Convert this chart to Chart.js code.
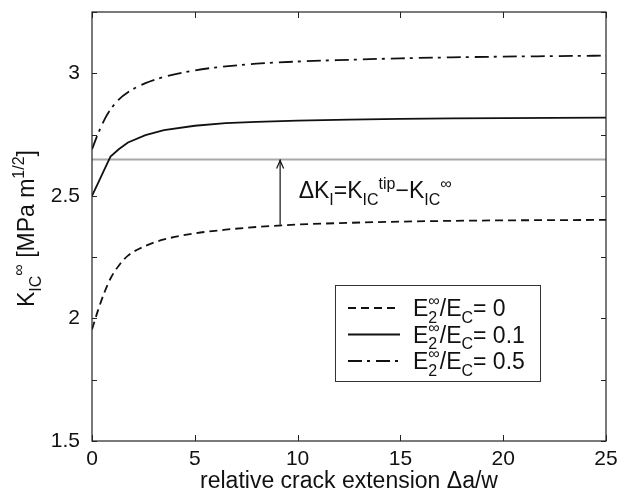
<!DOCTYPE html>
<html>
<head>
<meta charset="utf-8">
<script src="https://cdn.jsdelivr.net/npm/chart.js@4.4.1/dist/chart.umd.min.js"></script>
<style>
  html, body { margin: 0; padding: 0; background: #fff; }
  canvas { display: block; }
</style>
</head>
<body>
<canvas id="chart" width="619" height="493"></canvas>
<script>
// values
const X_VALUES = [0, 0.3, 0.6, 0.9, 1.3, 1.75, 2.6, 3.5, 5, 6.5, 8, 10, 12.5, 15, 17.5, 20, 22.5, 25];
const K_E0 = [1.955, 2.035, 2.105, 2.163, 2.215, 2.256, 2.296, 2.322, 2.347, 2.362, 2.373, 2.383, 2.39, 2.395, 2.398, 2.4, 2.401, 2.402];
const K_E01 = [2.5, 2.553, 2.607, 2.66, 2.69, 2.718, 2.748, 2.768, 2.786, 2.797, 2.802, 2.807, 2.811, 2.814, 2.816, 2.817, 2.818, 2.819];
const K_E05 = [2.69, 2.755, 2.81, 2.852, 2.893, 2.923, 2.96, 2.985, 3.012, 3.028, 3.039, 3.048, 3.055, 3.061, 3.065, 3.068, 3.07, 3.072];
const LEGEND_VALUES = ["0", "0.1", "0.5"];
const K_TIP = 2.648;
const ARROW_X = 9.15;
const ARROW_FROM = 2.382;
const X_TICKS = [0, 5, 10, 15, 20, 25];
const Y_MIN = 1.5, Y_MAX = 3.25, Y_STEP = 0.25;

const FONT = '"Liberation Sans", Arial, Helvetica, sans-serif';
const INK = "#111";

const pts = (ys) => ys.map((y, i) => ({ x: X_VALUES[i], y }));

// draw text made of plain / sub / sup pieces, returns width
function rich(ctx, parts, x, y, size, draw = true) {
  const small = Math.round(size * 0.68);
  let cx = x;
  for (const p of parts) {
    if (typeof p === "string") {
      ctx.font = `${size}px ${FONT}`;
      if (draw) ctx.fillText(p, cx, y);
      cx += ctx.measureText(p).width;
      continue;
    }
    ctx.font = `${small}px ${FONT}`;
    let w = 0;
    if (p.sub) {
      if (draw) ctx.fillText(p.sub, cx, y + size * 0.3);
      w = Math.max(w, ctx.measureText(p.sub).width);
    }
    if (p.sup) {
      if (draw) ctx.fillText(p.sup, cx, y - size * 0.42);
      w = Math.max(w, ctx.measureText(p.sup).width);
    }
    cx += w;
  }
  return cx - x;
}

const decor = {
  id: "decor",
  afterDatasetsDraw(chart) {
    const { ctx, chartArea: a, scales: { x, y } } = chart;
    ctx.save();
    ctx.strokeStyle = "#222";
    ctx.lineWidth = 1.2;
    ctx.strokeRect(a.left, a.top, a.right - a.left, a.bottom - a.top);

    // inner ticks on all four sides
    ctx.lineWidth = 1;
    ctx.beginPath();
    for (const v of X_TICKS) {
      const px = Math.round(x.getPixelForValue(v)) + 0.5;
      ctx.moveTo(px, a.bottom); ctx.lineTo(px, a.bottom - 6);
      ctx.moveTo(px, a.top); ctx.lineTo(px, a.top + 6);
    }
    for (let v = Y_MIN; v <= Y_MAX + 1e-9; v += Y_STEP) {
      const py = Math.round(y.getPixelForValue(v)) + 0.5;
      ctx.moveTo(a.left, py); ctx.lineTo(a.left + 5, py);
      ctx.moveTo(a.right, py); ctx.lineTo(a.right - 5, py);
    }
    ctx.stroke();

    // arrow head
    const ax = x.getPixelForValue(ARROW_X);
    const ay = y.getPixelForValue(K_TIP);
    ctx.strokeStyle = INK;
    ctx.lineWidth = 1.2;
    ctx.beginPath();
    ctx.moveTo(ax - 3.5, ay + 9); ctx.lineTo(ax, ay + 1); ctx.lineTo(ax + 3.5, ay + 9);
    ctx.stroke();

    // delta K label
    ctx.fillStyle = INK;
    ctx.textBaseline = "alphabetic";
    ctx.textAlign = "left";
    rich(ctx, ["\u0394K", { sub: "I" }, "=K", { sub: "IC" }, { sup: "tip" }, "\u2212K", { sub: "IC" }, { sup: "\u221e" }],
      x.getPixelForValue(10.05), y.getPixelForValue(2.49), 23);

    // legend
    const lx = 335, ly = 285, lw = 205, lh = 96;
    ctx.strokeStyle = "#333";
    ctx.lineWidth = 1;
    ctx.strokeRect(lx + 0.5, ly + 0.5, lw, lh);
    chart.data.datasets.slice(0, 3).forEach((ds, i) => {
      const ry = ly + 23 + i * 26.5;
      ctx.strokeStyle = INK;
      ctx.lineWidth = ds.borderWidth;
      ctx.setLineDash(ds.borderDash || []);
      ctx.beginPath();
      ctx.moveTo(348, ry); ctx.lineTo(400, ry);
      ctx.stroke();
      ctx.setLineDash([]);
      rich(ctx, ["E", { sub: "2", sup: "\u221e" }, "/E", { sub: "C" }, "= " + LEGEND_VALUES[i]], 413, ry + 8, 23);
    });
    ctx.restore();
  },
  afterDraw(chart) {
    const { ctx, chartArea: a } = chart;
    ctx.save();
    ctx.fillStyle = INK;
    ctx.textBaseline = "alphabetic";
    // x title
    ctx.font = `23px ${FONT}`;
    ctx.textAlign = "center";
    ctx.fillText("relative crack extension \u0394a/w", (a.left + a.right) / 2, 488);
    // y title, rotated
    ctx.textAlign = "left";
    const yParts = ["K", { sub: "IC" }, { sup: "\u221e" }, " [MPa m", { sup: "1/2" }, "]"];
    const w = rich(ctx, yParts, 0, 0, 23, false);
    ctx.translate(34, (a.top + a.bottom) / 2 + 2);
    ctx.rotate(-Math.PI / 2);
    rich(ctx, yParts, -w / 2, 0, 23);
    ctx.restore();
  },
};

const line = (label, data, dash, extra = {}) => ({
  label, data, borderColor: INK, borderWidth: 1.8, borderDash: dash,
  pointRadius: 0, fill: false, ...extra,
});

new Chart(document.getElementById("chart").getContext("2d"), {
  type: "line",
  data: {
    datasets: [
      line("E0", pts(K_E0), [8, 5], { cubicInterpolationMode: "monotone" }),
      line("E0.1", pts(K_E01), []),
      line("E0.5", pts(K_E05), [14, 5, 3, 6], { cubicInterpolationMode: "monotone" }),
      { label: "tip", data: [{ x: X_TICKS[0], y: K_TIP }, { x: X_TICKS[X_TICKS.length - 1], y: K_TIP }],
        borderColor: "#a8a8a8", borderWidth: 2, pointRadius: 0, order: 5 },
      { label: "arrow", data: [{ x: ARROW_X, y: ARROW_FROM }, { x: ARROW_X, y: K_TIP }],
        borderColor: INK, borderWidth: 1.2, pointRadius: 0 },
    ],
  },
  options: {
    responsive: false,
    animation: false,
    events: [],
    layout: { padding: { left: 0, top: 12, right: 13, bottom: 0 } },
    plugins: { legend: { display: false }, tooltip: { enabled: false } },
    scales: {
      x: {
        type: "linear", min: 0, max: 25,
        grid: { display: false, drawTicks: false },
        border: { display: false },
        afterBuildTicks: (s) => { s.ticks = X_TICKS.map((v) => ({ value: v })); },
        afterFit: (s) => { s.height = 52; s.paddingLeft = 0; s.paddingRight = 0; },
        ticks: { color: INK, font: { family: FONT, size: 21 }, padding: 6, maxRotation: 0 },
      },
      y: {
        min: Y_MIN, max: Y_MAX,
        grid: { display: false, drawTicks: false },
        border: { display: false },
        afterFit: (s) => { s.width = 92; s.paddingTop = 0; s.paddingBottom = 0; },
        ticks: {
          stepSize: Y_STEP, color: INK, font: { family: FONT, size: 21 }, padding: 12,
          callback: (v) => (Math.abs(v * 2 - Math.round(v * 2)) < 1e-9 ? String(v) : ""),
        },
      },
    },
  },
  plugins: [decor],
});
</script>
</body>
</html>
